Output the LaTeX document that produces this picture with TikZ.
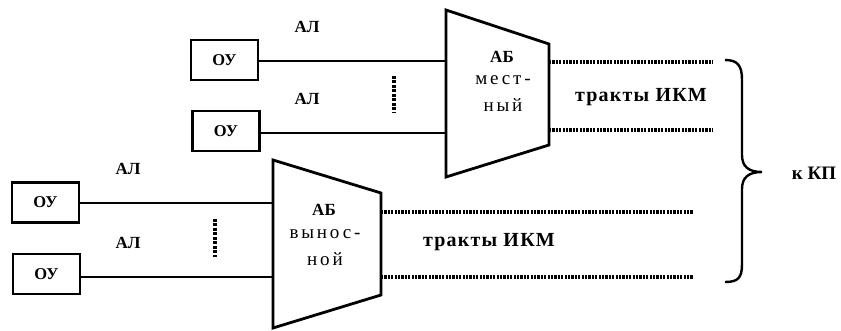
\documentclass[tikz,border=0pt]{standalone}
\usepackage{fontspec}
\setmainfont{Liberation Serif}
\newfontfamily\spaced[LetterSpace=15]{Liberation Serif}
\newfontfamily\trfont[LetterSpace=6]{Liberation Serif}
\begin{document}
\begin{tikzpicture}[x=1pt,y=-1pt,
  ou/.style={draw,line width=2.6pt,minimum width=67pt,minimum height=40pt,inner sep=0pt,font=\fontsize{16.5}{18}\selectfont\bfseries},
  lbl/.style={font=\fontsize{17}{19}\selectfont\bfseries,inner sep=0pt},
  mono/.style={font=\fontsize{19}{21}\spaced,inner sep=0pt},
  trk/.style={font=\fontsize{20}{22}\trfont\bfseries,inner sep=0pt},
  wire/.style={line width=2.2pt},
  trap/.style={line width=2.8pt,line join=miter},
  ikm/.style={line width=3.2pt,dash pattern=on 2.2pt off 1.2pt},
  vdots/.style={line width=4pt,dash pattern=on 3pt off 1.5pt}]
\useasboundingbox (0,0) rectangle (841,331);
% ---- local AB ----
\coordinate (a1) at (446,10);
\coordinate (a2) at (549,44);
\coordinate (a3) at (549,145);
\coordinate (a4) at (446,177);
\draw[trap] (a1) -- (a2) -- (a3) -- (a4) -- cycle;
\node[ou] (ou1) at (224.5,60) {ОУ};
\node[ou] (ou2) at (226,131) {ОУ};
\coordinate (in1) at (446,61);
\coordinate (in2) at (446,133);
\draw[wire] (ou1.east |- in1) -- (in1);
\draw[wire] (ou2.east |- in2) -- (in2);
\node[lbl] (al1) at (307,27) {АЛ};
\node[lbl] (al2) at (307,99) {АЛ};
\coordinate (d1a) at (394,76);
\coordinate (d1b) at (394,113);
\draw[vdots] (d1a) -- (d1b);
\node[lbl] (ab1) at (502,57) {АБ};
\node[mono] (m1) at (503,80) {мест-};
\node[mono] (m2) at (503,105) {ный};
\coordinate (t1s) at (549,62);
\coordinate (t1e) at (713,62);
\coordinate (t2s) at (549,130);
\coordinate (t2e) at (713,130);
\draw[ikm] (t1s) -- (t1e);
\draw[ikm] (t2s) -- (t2e);
\node[trk] (ikm1) at (641,97) {тракты ИКМ};
% ---- remote AB ----
\coordinate (b1) at (273,160);
\coordinate (b2) at (381,193);
\coordinate (b3) at (381,295);
\coordinate (b4) at (273,328);
\draw[trap] (b1) -- (b2) -- (b3) -- (b4) -- cycle;
\node[ou] (ou3) at (45.5,202.5) {ОУ};
\node[ou] (ou4) at (46.5,274) {ОУ};
\coordinate (in3) at (273,203);
\coordinate (in4) at (273,277);
\draw[wire] (ou3.east |- in3) -- (in3);
\draw[wire] (ou4.east |- in4) -- (in4);
\node[lbl] (al3) at (128,169) {АЛ};
\node[lbl] (al4) at (128,243) {АЛ};
\coordinate (d2a) at (215,219);
\coordinate (d2b) at (215,257);
\draw[vdots] (d2a) -- (d2b);
\node[lbl] (ab2) at (324,210) {АБ};
\node[mono] (m3) at (325,234) {вынос-};
\node[mono] (m4) at (325,259) {ной};
\coordinate (t3s) at (381,212);
\coordinate (t3e) at (693,212);
\coordinate (t4s) at (381,277);
\coordinate (t4e) at (693,277);
\draw[ikm] (t3s) -- (t3e);
\draw[ikm] (t4s) -- (t4e);
\node[trk] (ikm2) at (489,242) {тракты ИКМ};
% ---- brace ----
\coordinate (bt) at (725,60);
\coordinate (bm) at (762,172);
\coordinate (bb) at (725,282);
\draw[line width=2.4pt] (bt) .. controls (738,60) and (742,66) .. (742,80)
  -- (742,155) .. controls (742,166) and (748,172) .. (bm)
  .. controls (748,172) and (742,178) .. (742,189)
  -- (742,264) .. controls (742,278) and (738,282) .. (bb);
\node[lbl,font=\fontsize{19}{21}\selectfont\bfseries] (kp) at (814,173) {к КП};
\end{tikzpicture}
\end{document}
